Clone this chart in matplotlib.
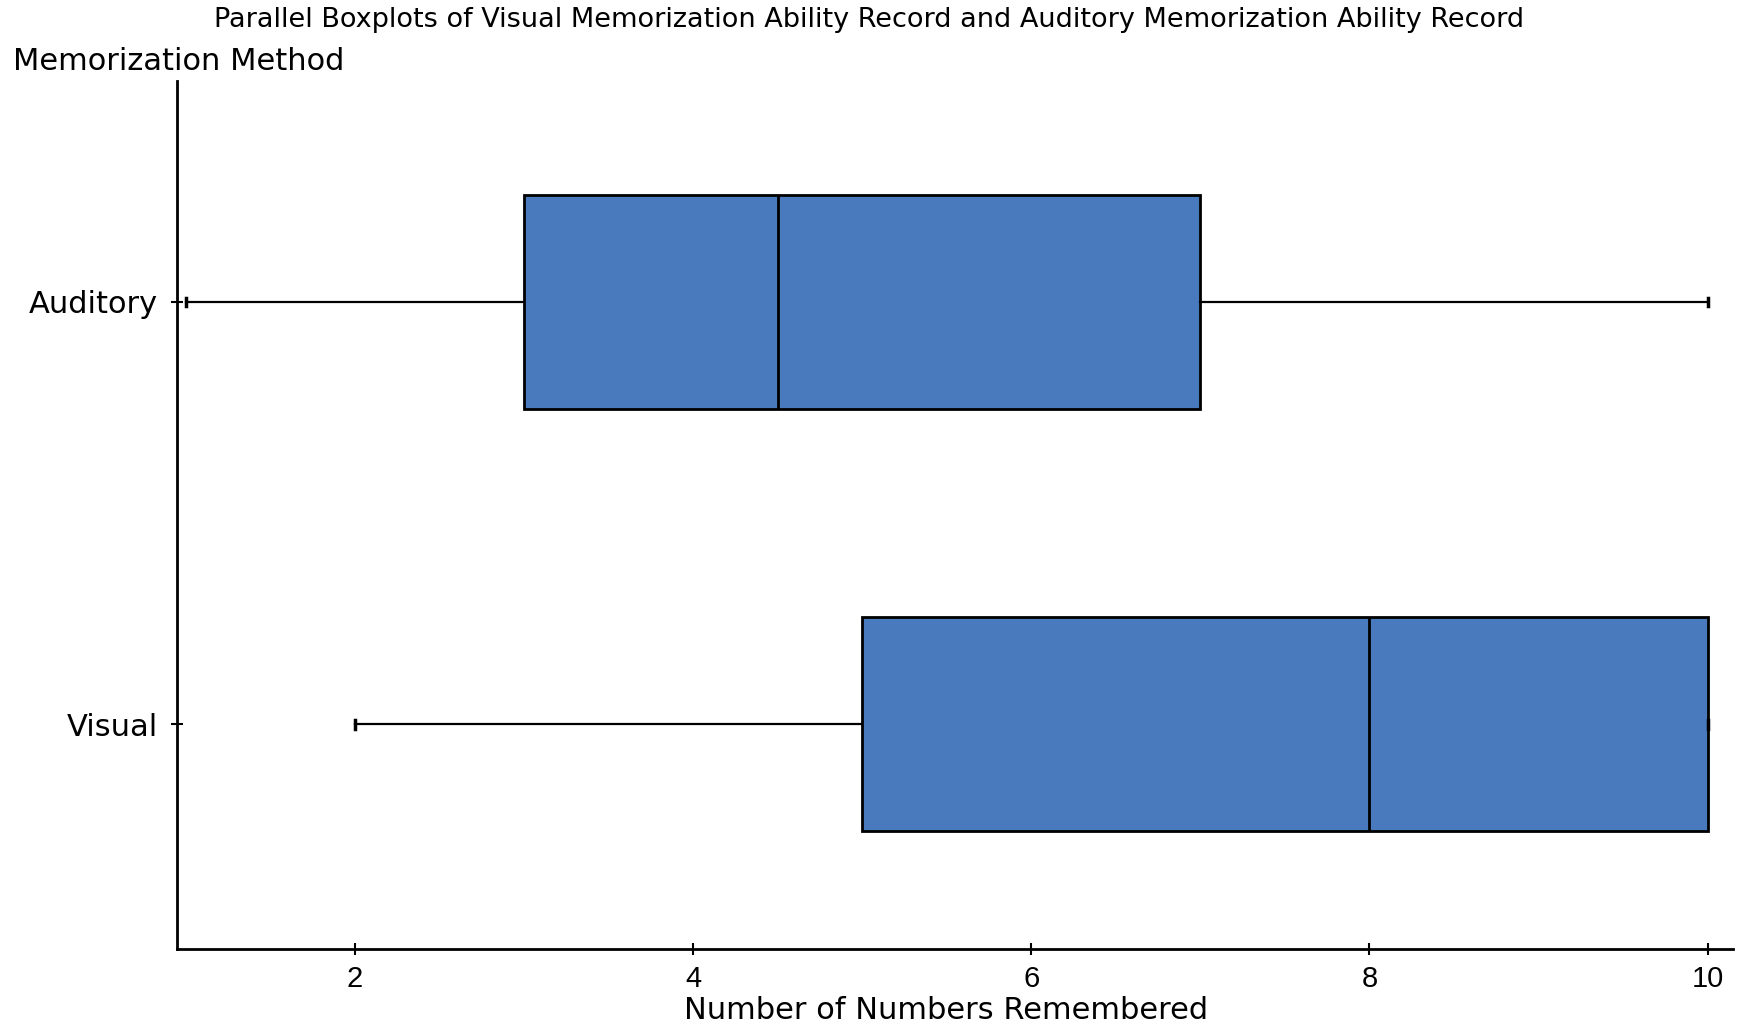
import matplotlib.pyplot as plt

# Данные: пятичисловая сводка для каждого метода
methods = ['Visual', 'Auditory']
mins = [2, 1]
q1s = [5, 3]
medians = [8, 4.5]
q3s = [10, 7]
maxs = [10, 10]

stats = []
for name, lo, q1, med, q3, hi in zip(methods, mins, q1s, medians, q3s, maxs):
    stats.append({'label': name, 'whislo': lo, 'q1': q1, 'med': med,
                  'q3': q3, 'whishi': hi, 'fliers': []})

fig = plt.figure(figsize=(17.39, 10.23), dpi=100)
ax = fig.add_axes([0.1018, 0.0723, 0.8947, 0.8485])

ax.bxp(stats, positions=[0, 1], vert=False, widths=0.506, patch_artist=True,
       showfliers=False,
       boxprops=dict(facecolor='#4A7ABE', edgecolor='black', linewidth=2),
       medianprops=dict(color='black', linewidth=2),
       whiskerprops=dict(color='black', linewidth=1.6),
       capprops=dict(color='black', linewidth=2.5), capwidths=0.02)

ax.set_xlim(0.947, 10.15)
ax.set_ylim(-0.532, 1.523)
ax.set_xticks([2, 4, 6, 8, 10])
ax.set_yticks([0, 1])
ax.set_yticklabels(methods, fontsize=22, family='DejaVu Sans')
for lab in ax.get_xticklabels():
    lab.set_fontsize(21)
    lab.set_family('Liberation Sans')

for side in ['top', 'right']:
    ax.spines[side].set_visible(False)
for side in ['left', 'bottom']:
    ax.spines[side].set_linewidth(2)
ax.tick_params(direction='inout', length=9, width=1.5)
ax.tick_params(axis='x', pad=7)
ax.tick_params(axis='y', pad=9)

ax.set_xlabel('Number of Numbers Remembered', fontsize=22,
              family='DejaVu Sans', va='baseline')
ax.xaxis.set_label_coords(0.494, -0.081)
fig.text(0.0075, 0.94, 'Memorization Method', fontsize=22,
         family='DejaVu Sans', va='center', ha='left')
fig.text(0.4995, 0.980, 'Parallel Boxplots of Visual Memorization Ability Record '
         'and Auditory Memorization Ability Record',
         fontsize=19.5, family='DejaVu Sans', ha='center', va='center')

fig.savefig('out.png', dpi=100)
